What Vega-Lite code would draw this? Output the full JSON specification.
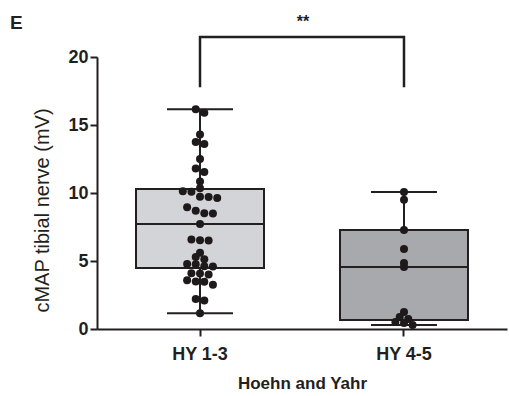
{
  "$schema": "https://vega.github.io/schema/vega-lite/v6.json",
  "width": 410,
  "height": 272,
  "autosize": {"type": "none"},
  "padding": {"left": 97, "top": 57, "right": 2, "bottom": 67},
  "background": "white",
  "title": {"text": "E", "anchor": "start", "frame": "group", "dx": -87, "offset": -34, "baseline": "alphabetic", "fontSize": 19, "fontWeight": "bold", "font": "Liberation Sans", "color": "#231f20"},
  "config": {"view": {"stroke": null}, "font": "Liberation Sans"},
  "datasets": {
    "pts": [
      {"group": "HY 1-3", "cmap": 16.15}, {"group": "HY 1-3", "cmap": 15.9},
      {"group": "HY 1-3", "cmap": 14.3},
      {"group": "HY 1-3", "cmap": 13.75}, {"group": "HY 1-3", "cmap": 13.6},
      {"group": "HY 1-3", "cmap": 12.5},
      {"group": "HY 1-3", "cmap": 11.8}, {"group": "HY 1-3", "cmap": 11.55},
      {"group": "HY 1-3", "cmap": 10.85},
      {"group": "HY 1-3", "cmap": 10.35},
      {"group": "HY 1-3", "cmap": 10.12}, {"group": "HY 1-3", "cmap": 10.1},
      {"group": "HY 1-3", "cmap": 9.72}, {"group": "HY 1-3", "cmap": 9.7}, {"group": "HY 1-3", "cmap": 9.64},
      {"group": "HY 1-3", "cmap": 8.95}, {"group": "HY 1-3", "cmap": 8.7}, {"group": "HY 1-3", "cmap": 8.52}, {"group": "HY 1-3", "cmap": 8.5},
      {"group": "HY 1-3", "cmap": 7.72},
      {"group": "HY 1-3", "cmap": 6.58}, {"group": "HY 1-3", "cmap": 6.5}, {"group": "HY 1-3", "cmap": 6.52},
      {"group": "HY 1-3", "cmap": 5.6},
      {"group": "HY 1-3", "cmap": 5.3}, {"group": "HY 1-3", "cmap": 5.12},
      {"group": "HY 1-3", "cmap": 4.78}, {"group": "HY 1-3", "cmap": 4.62}, {"group": "HY 1-3", "cmap": 4.76}, {"group": "HY 1-3", "cmap": 4.6},
      {"group": "HY 1-3", "cmap": 4.1}, {"group": "HY 1-3", "cmap": 4.0}, {"group": "HY 1-3", "cmap": 4.08},
      {"group": "HY 1-3", "cmap": 3.5}, {"group": "HY 1-3", "cmap": 3.25}, {"group": "HY 1-3", "cmap": 3.48}, {"group": "HY 1-3", "cmap": 3.58},
      {"group": "HY 1-3", "cmap": 2.2}, {"group": "HY 1-3", "cmap": 2.1},
      {"group": "HY 1-3", "cmap": 1.15},
      {"group": "HY 4-5", "cmap": 10.07}, {"group": "HY 4-5", "cmap": 9.5}, {"group": "HY 4-5", "cmap": 7.28},
      {"group": "HY 4-5", "cmap": 5.88}, {"group": "HY 4-5", "cmap": 4.85}, {"group": "HY 4-5", "cmap": 4.56},
      {"group": "HY 4-5", "cmap": 1.25}, {"group": "HY 4-5", "cmap": 0.88}, {"group": "HY 4-5", "cmap": 0.74},
      {"group": "HY 4-5", "cmap": 0.51}, {"group": "HY 4-5", "cmap": 0.44}, {"group": "HY 4-5", "cmap": 0.3}
    ],
    "box": [
      {"group": "HY 1-3", "min": 1.15, "q1": 4.49, "median": 7.72, "q3": 10.3, "max": 16.15},
      {"group": "HY 4-5", "min": 0.3, "q1": 0.66, "median": 4.56, "q3": 7.28, "max": 10.07}
    ],
    "bracket": [
      {"group": "HY 1-3", "y": 17.87, "ord": 1},
      {"group": "HY 1-3", "y": 21.47, "ord": 2},
      {"group": "HY 4-5", "y": 21.47, "ord": 3},
      {"group": "HY 4-5", "y": 17.87, "ord": 4}
    ],
    "sig": [{"group": "HY 1-3", "y": 22.6, "label": "**"}]
  },
  "encoding": {
    "x": {
      "field": "group", "type": "nominal",
      "scale": {"domain": ["HY 1-3", "HY 4-5"], "paddingInner": 0, "paddingOuter": 0.005},
      "axis": {
        "title": "Hoehn and Yahr", "labelAngle": 0, "labelFontSize": 18, "labelFontWeight": "bold",
        "labelColor": "#231f20", "labelPadding": 9, "titleFontSize": 17, "titleFontWeight": "bold",
        "titleColor": "#231f20", "titlePadding": 12, "domainColor": "#231f20", "domainWidth": 2,
        "tickColor": "#231f20", "tickWidth": 2, "tickSize": 7
      }
    }
  },
  "layer": [
    {
      "data": {"name": "box"},
      "mark": {"type": "rule", "color": "#231f20", "strokeWidth": 2},
      "encoding": {
        "y": {"field": "min", "type": "quantitative", "scale": {"domain": [0, 20], "nice": false},
          "axis": {
            "title": "cMAP tibial nerve (mV)", "values": [0, 5, 10, 15, 20], "grid": false,
            "labelFontSize": 18, "labelFontWeight": "bold", "labelColor": "#231f20", "labelPadding": 2,
            "titleFontSize": 20, "titleFontWeight": "normal", "titleColor": "#231f20",
            "titleX": -55, "titleY": 153, "titleAlign": "center", "titleBaseline": "middle", "titleAngle": -90,
            "domainColor": "#231f20", "domainWidth": 2, "tickColor": "#231f20", "tickWidth": 2, "tickSize": 7
          }},
        "y2": {"field": "max"}
      }
    },
    {
      "data": {"name": "box"},
      "mark": {"type": "bar", "width": 128, "stroke": "#231f20", "strokeWidth": 2},
      "encoding": {
        "y": {"field": "q1", "type": "quantitative"},
        "y2": {"field": "q3"},
        "fill": {"field": "group", "type": "nominal", "scale": {"domain": ["HY 1-3", "HY 4-5"], "range": ["#d3d4d7", "#a8a9ac"]}, "legend": null}
      }
    },
    {
      "data": {"name": "box"},
      "mark": {"type": "tick", "size": 128, "thickness": 2, "color": "#231f20", "opacity": 1},
      "encoding": {"y": {"field": "median", "type": "quantitative"}}
    },
    {
      "data": {"name": "box"},
      "mark": {"type": "tick", "size": 66, "thickness": 2, "color": "#231f20", "opacity": 1},
      "encoding": {"y": {"field": "min", "type": "quantitative"}}
    },
    {
      "data": {"name": "box"},
      "mark": {"type": "tick", "size": 66, "thickness": 2, "color": "#231f20", "opacity": 1},
      "encoding": {"y": {"field": "max", "type": "quantitative"}}
    },
    {
      "data": {"name": "pts"},
      "transform": [
        {"bin": {"step": 0.6, "anchor": 0}, "field": "cmap", "as": "b"},
        {"window": [{"op": "row_number", "as": "rn"}], "groupby": ["group", "b"], "sort": [{"field": "cmap", "order": "descending"}]},
        {"joinaggregate": [{"op": "count", "as": "n"}], "groupby": ["group", "b"]},
        {"calculate": "(datum.rn - (datum.n + 1) / 2) * 8.6", "as": "off"}
      ],
      "mark": {"type": "circle", "size": 64, "color": "#1e1a1b", "opacity": 1},
      "encoding": {
        "y": {"field": "cmap", "type": "quantitative"},
        "xOffset": {"field": "off", "type": "quantitative", "scale": {"domain": [-102, 102], "range": [0, 204]}}
      }
    },
    {
      "data": {"name": "bracket"},
      "mark": {"type": "line", "color": "#231f20", "strokeWidth": 2.5, "strokeJoin": "miter", "strokeCap": "square"},
      "encoding": {
        "y": {"field": "y", "type": "quantitative"},
        "order": {"field": "ord", "type": "quantitative"}
      }
    },
    {
      "data": {"name": "sig"},
      "mark": {"type": "text", "dx": 103, "fontSize": 16, "fontWeight": "bold", "color": "#231f20", "baseline": "middle"},
      "encoding": {
        "y": {"field": "y", "type": "quantitative"},
        "text": {"field": "label"}
      }
    }
  ]
}
